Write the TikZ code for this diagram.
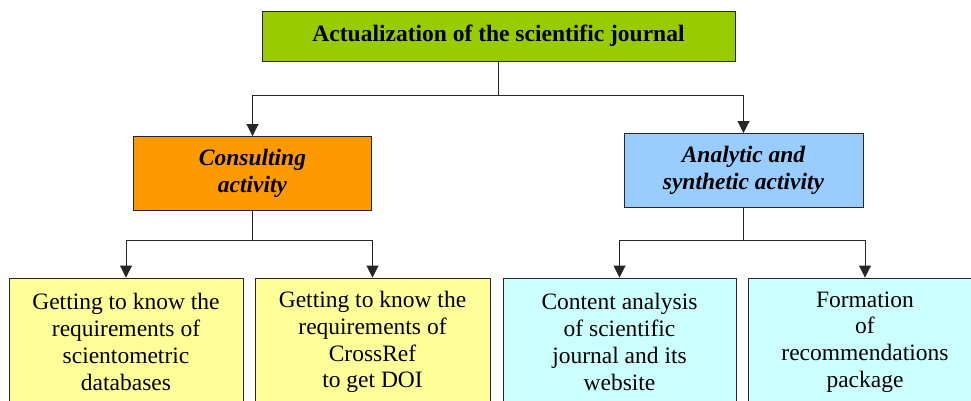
\documentclass[tikz,border=0pt]{standalone}
\usepackage{fontspec}
\setmainfont{Liberation Serif}
\usetikzlibrary{arrows.meta}
\definecolor{topgreen}{HTML}{99CC00}
\definecolor{consorange}{HTML}{FF9900}
\definecolor{analblue}{HTML}{99CCFF}
\definecolor{leafyellow}{HTML}{FFFF99}
\definecolor{leafcyan}{HTML}{CCFFFF}
\tikzset{
  box/.style={draw=black!85, line width=0.9pt, align=center, inner sep=0pt,
    font=\fontsize{23.5}{26.8}\selectfont},
  arr/.style={-{Triangle[width=12pt,length=12pt]}, line width=0.9pt, draw=black!85}
}
\begin{document}
\begin{tikzpicture}[x=1pt,y=-1pt]
  \useasboundingbox (0,0) rectangle (971,401);
  \clip (0,0) rectangle (971,401);
  \node[box, fill=topgreen, minimum width=473pt, minimum height=50pt,
    font=\fontsize{23.5}{26.8}\selectfont\bfseries] (top) at (498.5,36)
    {Actualization of the scientific journal};
  \node[box, fill=consorange, minimum width=238pt, minimum height=74pt,
    font=\fontsize{23.5}{26.8}\selectfont\bfseries\itshape] (cons) at (252.5,173.5)
    {Consulting\\activity};
  \node[box, fill=analblue, minimum width=239pt, minimum height=74pt,
    font=\fontsize{23.5}{26.8}\selectfont\bfseries\itshape] (anal) at (743.5,170.5)
    {Analytic and\\synthetic activity};
  \node[box, fill=leafyellow, minimum width=234pt, minimum height=128pt] (reqdb) at (126,342)
    {Getting to know the\\requirements of\\scientometric\\databases};
  \node[box, fill=leafyellow, minimum width=235pt, minimum height=128pt] (reqdoi) at (372.5,342)
    {Getting to know the\\requirements of\\CrossRef\\to get DOI};
  \node[box, fill=leafcyan, minimum width=233pt, minimum height=128pt] (content) at (619.5,342)
    {Content analysis\\of scientific\\journal and its\\website};
  \node[box, fill=leafcyan, minimum width=234pt, minimum height=128pt] (recom) at (865,342)
    {Formation\\of\\recommendations\\package};
  \draw[line width=0.9pt, black!85] (top.south) -- ++(0,34) coordinate (topj);
  \draw[arr] (topj) -| (cons.north);
  \draw[arr] (topj) -| (anal.north);
  \draw[line width=0.9pt, black!85] (cons.south) -- ++(0,29.5) coordinate (consj);
  \draw[arr] (consj) -| (reqdb.north);
  \draw[arr] (consj) -| (reqdoi.north);
  \draw[line width=0.9pt, black!85] (anal.south) -- ++(0,32.5) coordinate (analj);
  \draw[arr] (analj) -| (content.north);
  \draw[arr] (analj) -| (recom.north);
\end{tikzpicture}
\end{document}
